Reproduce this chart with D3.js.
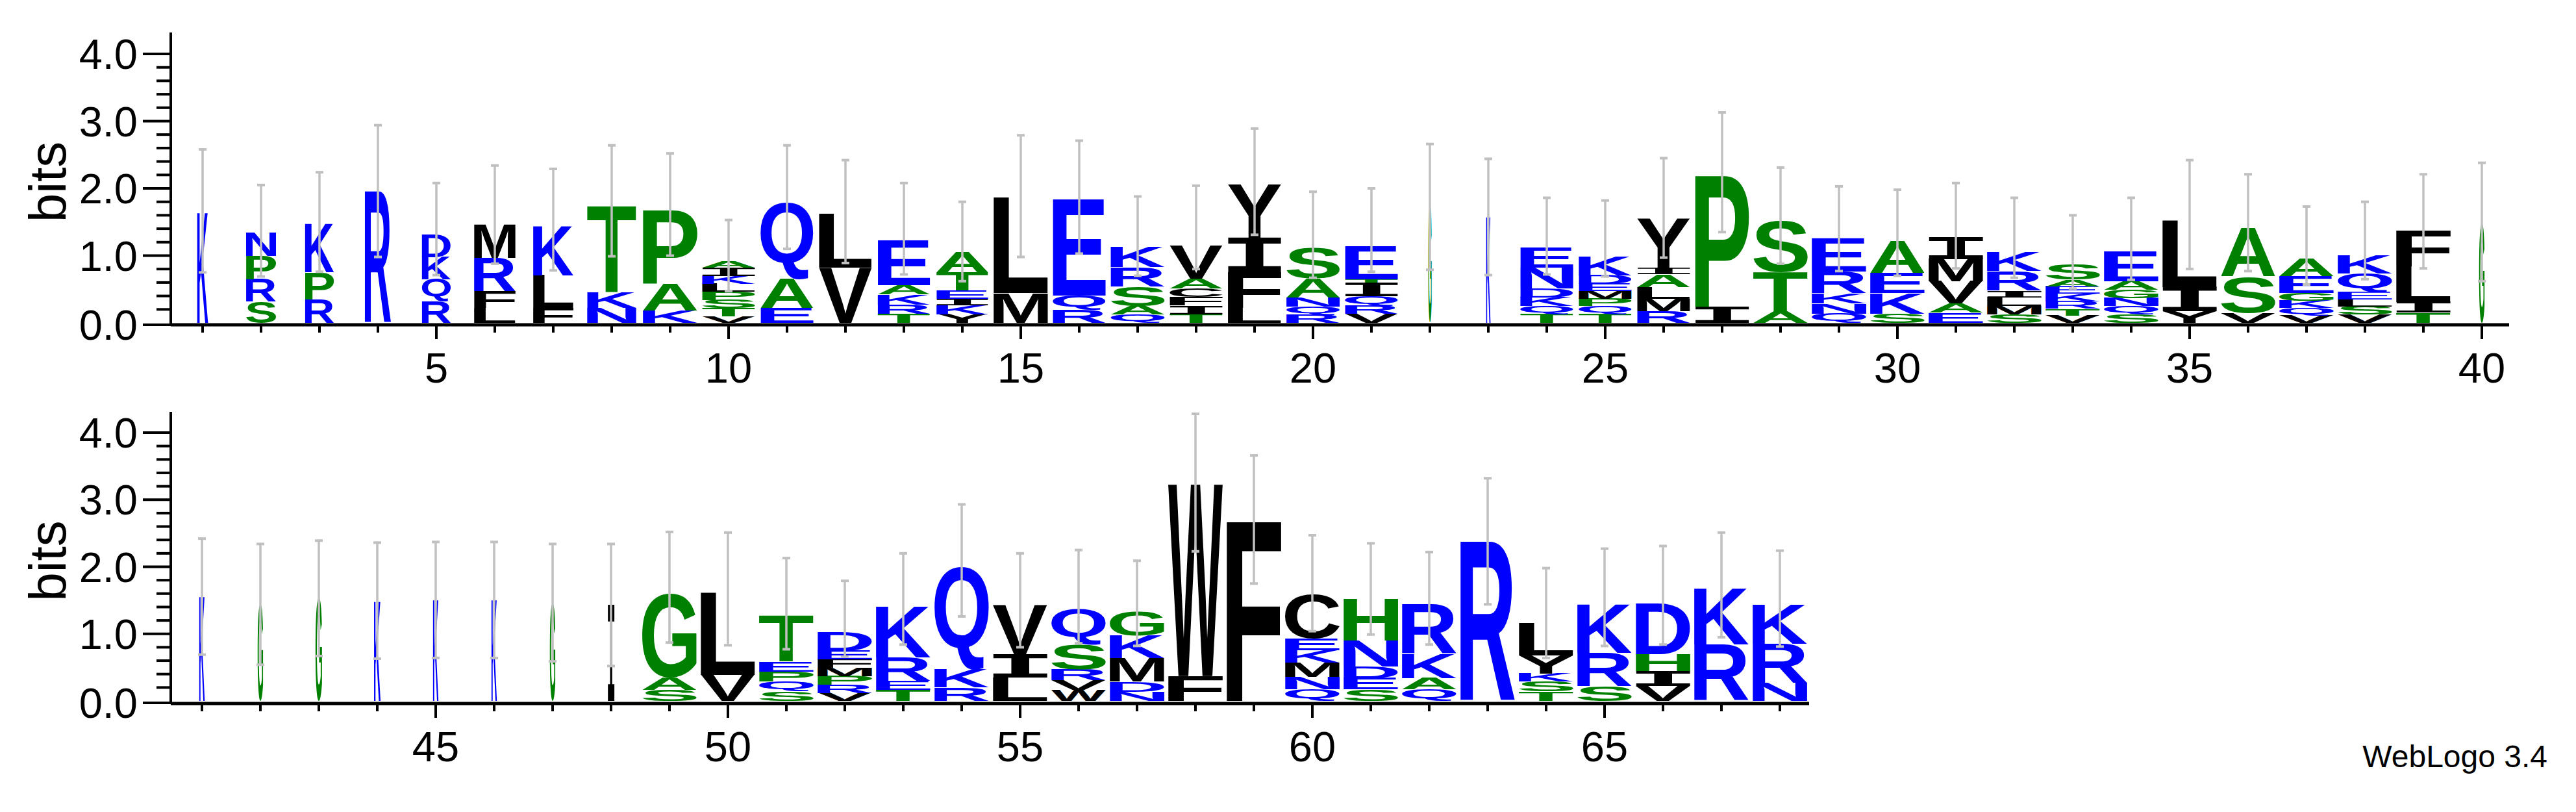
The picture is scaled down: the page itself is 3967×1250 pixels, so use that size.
<!DOCTYPE html>
<html><head><meta charset="utf-8">
<script src="https://cdn.jsdelivr.net/npm/d3@7"></script>
<style>html,body{margin:0;padding:0;background:#fff;}</style>
</head><body>
<svg id="c" width="3967" height="1250"></svg>
<script>
// ---- data ----
const positions = d3.range(1, 69);
// letters bottom -> top
const stackLetters = [
 "K","SRPN","RPK","R","RQKD","LFRM","FLK","NKT","KAP","VTSPLKIA",
 "EAQ","VL","TRKAE","YKIETA","ML","RQE","QASRK","TIFCAV","LFIY","RQNAS",
 "VRQITE","G","K","TQKDNE","TQPMEDK","RMLAIY","IP","ATS","QNKRE","SKEA",
 "EAVMI","SMLIRK","VTRKEAS","SQNGAE","YIL","VSA","VQKGEA","VSLEQK","TILF","G",
 "K","G","G","K","K","K","G","I","SAG","VL",
 "SQPET","VRPMFED","TERK","RKQ","LIV","WVRSQ","NDMKG","FW","F","QNMKEC",
 "SEDNH","QAKR","R","TSKYL","SRK","VIHD","RK","NRK"
];
const stackHeights = [
 [1.65],[0.32,0.33,0.35,0.35],[0.35,0.4,0.72],[1.96],[0.32,0.33,0.33,0.33],[0.22,0.25,0.5,0.5],[0.22,0.49,0.74],[0.22,0.24,1.28],[0.18,0.4,1.1],[0.1,0.12,0.12,0.12,0.12,0.12,0.12,0.1],
 [0.22,0.43,1.15],[0.82,0.8],[0.13,0.14,0.15,0.14,0.67],[0.13,0.13,0.1,0.12,0.27,0.3],[0.44,1.42],[0.2,0.21,1.43],[0.12,0.13,0.29,0.29,0.3],[0.13,0.13,0.12,0.13,0.15,0.5],[0.22,0.53,0.52,0.79],[0.12,0.12,0.13,0.29,0.46],
 [0.13,0.12,0.15,0.2,0.05,0.5],[1.73],[1.58],[0.13,0.12,0.13,0.13,0.31,0.3],[0.13,0.12,0.11,0.11,0.11,0.13,0.29],[0.17,0.19,0.17,0.19,0.1,0.73],[0.24,1.96],[0.17,0.58,0.77],[0.14,0.15,0.15,0.32,0.5],[0.14,0.3,0.3,0.47],
 [0.15,0.14,0.33,0.33,0.32],[0.13,0.12,0.13,0.1,0.29,0.29],[0.11,0.1,0.11,0.11,0.11,0.1,0.23],[0.13,0.12,0.12,0.12,0.13,0.44],[0.17,0.36,0.99],[0.15,0.54,0.72],[0.11,0.11,0.11,0.11,0.25,0.26],[0.12,0.12,0.11,0.11,0.27,0.27],[0.15,0.16,0.53,0.53],[1.48],
 [1.56],[1.44],[1.53],[1.49],[1.51],[1.51],[1.46],[1.44],[0.16,0.19,1.25],[0.39,1.23],
 [0.14,0.15,0.15,0.15,0.68],[0.12,0.12,0.13,0.12,0.13,0.13,0.29],[0.16,0.14,0.35,0.76],[0.2,0.27,1.53],[0.35,0.35,0.73],[0.16,0.15,0.16,0.37,0.54],[0.14,0.15,0.35,0.33,0.35],[0.37,2.86],[2.69],[0.17,0.19,0.21,0.19,0.17,0.66],
 [0.17,0.17,0.17,0.39,0.62],[0.17,0.17,0.36,0.74],[2.38],[0.14,0.15,0.12,0.27,0.48],[0.22,0.5,0.73],[0.22,0.23,0.25,0.75],[0.84,0.84],[0.27,0.58,0.59]
];
const widthFrac = [
 0.2,0.55,0.53,0.48,0.53,0.76,0.74,0.9,1,0.97, 0.97,0.97,0.96,0.95,1,0.97,0.99,0.97,0.98,0.98,
 0.97,0.06,0.08,0.97,0.97,0.97,0.99,1,1,1, 1,1,1,1,1,1,1,1,1,0.1,
 0.1,0.1,0.12,0.12,0.1,0.1,0.1,0.12,1,1, 1,1,1,1,1,1,1,1,1,1,
 1,1,1,1,1,1,1,1
];
const errLow = [
 0.75,0.69,0.76,0.98,0.71,0.88,0.78,0.99,1.0,0.47, 1.1,0.89,0.72,0.62,0.98,1.03,0.7,0.8,1.31,0.67,
 0.76,0.79,0.71,0.72,0.69,0.97,1.35,0.88,0.77,0.7, 0.81,0.67,0.51,0.64,0.8,0.77,0.57,0.65,0.81,0.62,
 0.69,0.54,0.67,0.63,0.64,0.64,0.59,0.52,0.87,0.83, 0.77,0.66,0.84,1.26,0.8,0.86,0.82,2.23,1.75,1.04,
 0.99,0.84,1.44,0.64,0.82,0.84,0.95,0.81
];
const errHigh = [
 2.58,2.05,2.24,2.94,2.08,2.34,2.29,2.64,2.52,1.53, 2.64,2.42,2.08,1.8,2.79,2.71,1.88,2.04,2.89,1.95,
 2.0,2.66,2.44,1.86,1.82,2.45,3.13,2.31,2.03,1.98, 2.08,1.86,1.6,1.86,2.42,2.21,1.73,1.8,2.21,2.38,
 2.42,2.34,2.39,2.36,2.37,2.37,2.34,2.34,2.52,2.51, 2.13,1.79,2.2,2.93,2.2,2.25,2.09,4.28,3.66,2.47,
 2.35,2.22,3.32,1.98,2.27,2.31,2.51,2.24
];
const yTicks = [0, 1, 2, 3, 4];
const yTickLabels = ["0.0", "1.0", "2.0", "3.0", "4.0"];
const blueSet = "KRDENQ", greenSet = "SPATGH";

function colorOf(ch){ return blueSet.includes(ch) ? "#0000ff" : greenSet.includes(ch) ? "#008000" : "#000000"; }

const svg = d3.select("#c");
const FONT = "'Liberation Sans', Arial, Helvetica, sans-serif";
const FONT_I = "'DejaVu Sans Mono', 'Liberation Mono', monospace";
function fontFor(ch){ return ch === "I" ? FONT_I : FONT; }
const cvs = document.createElement("canvas").getContext("2d");
const inkCache = {};
function ink(ch){
  if (!inkCache[ch]) { cvs.font = "bold 200px " + fontFor(ch); const m = cvs.measureText(ch);
    inkCache[ch] = {l: -m.actualBoundingBoxLeft, r: m.actualBoundingBoxRight, a: m.actualBoundingBoxAscent, d: m.actualBoundingBoxDescent}; }
  return inkCache[ch];
}

const panels = [
  {from:1, to:40, xr:[267,3867], y0:497, y4:83, axisY:500, axisTop:50, axisEnd:3864, ticks5:[5,10,15,20,25,30,35,40]},
  {from:41, to:68, xr:[266,2786], y0:1079, y4:666, axisY:1083, axisTop:634, axisEnd:2786, ticks5:[45,50,55,60,65]}
];

panels.forEach(P => {
  const x = d3.scaleLinear().domain([P.from-0.5, P.to+0.5]).range(P.xr);
  const y = d3.scaleLinear().domain([0,4]).range([P.y0, P.y4]);
  const g = svg.append("g");
  const slot = 84;
  const idx = d3.range(P.from-1, P.to);
  idx.forEach(i => {
    const w = slot * widthFrac[i];
    const cx = x(positions[i]);
    let acc = 0;
    stackLetters[i].split("").forEach((ch, k) => {
      const h = stackHeights[i][k];
      const yb = y(acc), yt = y(acc + h);
      acc += h;
      const b = ink(ch);
      const sx = w / (b.r - b.l), sy = (yb - yt) / (b.a + b.d);
      g.append("text").text(ch)
        .attr("font-family", fontFor(ch)).attr("font-weight", "bold").attr("font-size", 200)
        .attr("fill", colorOf(ch))
        .attr("transform", `translate(${cx - w/2 - b.l*sx},${yt + b.a*sy}) scale(${sx},${sy})`);
    });
  });
  idx.forEach(i => {
    const cx = x(positions[i]);
    g.append("line").attr("x1",cx).attr("x2",cx).attr("y1",y(errLow[i])).attr("y2",y(errHigh[i]))
      .attr("stroke","#c0c0c0").attr("stroke-width",3.5);
    [errLow[i], errHigh[i]].forEach(v => g.append("line").attr("x1",cx-6).attr("x2",cx+6)
      .attr("y1",y(v)).attr("y2",y(v)).attr("stroke","#c0c0c0").attr("stroke-width",4));
  });
  g.append("line").attr("x1",263).attr("x2",P.axisEnd).attr("y1",P.axisY).attr("y2",P.axisY).attr("stroke","#000").attr("stroke-width",5);
  g.append("line").attr("x1",263).attr("x2",263).attr("y1",P.axisTop).attr("y2",P.axisY).attr("stroke","#000").attr("stroke-width",4);
  d3.range(0, 21).forEach(k => {
    const v = k*0.2, major = k % 5 === 0;
    g.append("line").attr("x1", major ? 220 : 241).attr("x2",263).attr("y1",y(v)+ (v===0?3:0)).attr("y2",y(v)+(v===0?3:0))
      .attr("stroke","#000").attr("stroke-width",4);
  });
  yTicks.forEach((v,k) => g.append("text").text(yTickLabels[k]).attr("x",212).attr("y",y(v)+(v===0?3:0)+23)
    .attr("text-anchor","end").attr("font-family",FONT).attr("font-size",65).attr("fill","#000"));
  idx.forEach(i => {
    const p = positions[i], major = P.ticks5.includes(p);
    g.append("line").attr("x1",x(p)).attr("x2",x(p)).attr("y1",P.axisY).attr("y2",P.axisY + (major?22:12))
      .attr("stroke","#000").attr("stroke-width",4);
  });
  P.ticks5.forEach(p => g.append("text").text(p).attr("x",x(p)).attr("y",P.axisY+89)
    .attr("text-anchor","middle").attr("font-family",FONT).attr("font-size",65).attr("fill","#000"));
  const cy = (P.axisTop + P.axisY)/2 + 5;
  g.append("text").text("bits").attr("transform",`translate(101,${cy}) rotate(-90)`)
    .attr("text-anchor","middle").attr("font-family",FONT).attr("font-size",80).attr("fill","#000");
});
svg.append("text").text("WebLogo 3.4").attr("x",3923).attr("y",1181).attr("text-anchor","end")
  .attr("font-family",FONT).attr("font-size",48).attr("fill","#000");
</script>
</body></html>
